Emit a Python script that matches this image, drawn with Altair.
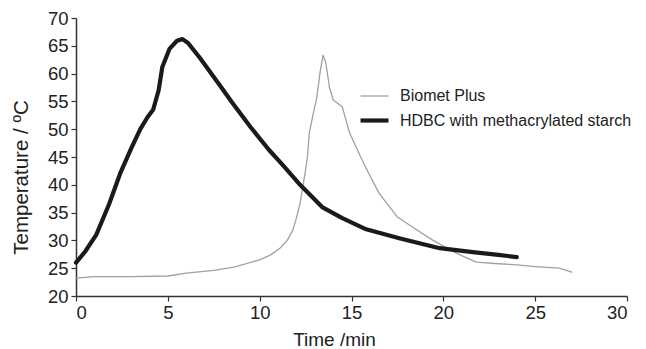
import altair as alt
import pandas as pd

series_names = ["Biomet Plus", "HDBC with methacrylated starch"]

biomet_t = [0, 1, 3, 5, 6, 7.5, 8.6, 10, 10.6, 11.1, 11.5, 11.8, 12.0, 12.2, 12.5, 12.6, 12.7, 12.9, 13.1, 13.3, 13.45, 13.6, 13.8, 14.0, 14.5, 14.9, 15.5, 15.9, 16.5, 17.5, 18.5, 19.4, 20.7, 21.8, 23, 24, 25, 26.3, 27.0]
biomet_v = [23.2, 23.5, 23.5, 23.6, 24.1, 24.6, 25.2, 26.5, 27.4, 28.6, 30.0, 31.8, 34.0, 36.7, 42.7, 45.0, 49.3, 52.5, 55.5, 60.5, 63.3, 62.0, 57.5, 55.3, 54.0, 49.3, 45.0, 42.3, 38.5, 34.2, 32.0, 30.1, 27.7, 26.1, 25.8, 25.6, 25.3, 25.0, 24.3]

hdbc_t = [0, 0.5, 1.1, 1.8, 2.4, 3.0, 3.5, 3.9, 4.2, 4.5, 4.7, 5.1, 5.5, 5.8, 6.1, 6.75, 7.7, 8.5, 9.5, 10.5, 11.3, 12.2, 13.4, 14.5, 15.8, 17.6, 19.8, 21.6, 23.0, 24.0]
hdbc_v = [26.0, 28.0, 31.0, 36.5, 42.0, 46.5, 50.0, 52.2, 53.5, 57.0, 61.2, 64.5, 65.9, 66.2, 65.5, 62.8, 58.5, 54.8, 50.4, 46.3, 43.4, 40.0, 36.0, 34.0, 32.0, 30.4, 28.6, 27.9, 27.4, 27.0]

rows = []
for i, (t, v) in enumerate(zip(biomet_t, biomet_v)):
    rows.append({"series": series_names[0], "t": t, "v": v, "i": i})
for i, (t, v) in enumerate(zip(hdbc_t, hdbc_v)):
    rows.append({"series": series_names[1], "t": t, "v": v, "i": i})
df = pd.DataFrame(rows)

font = "Liberation Sans"

chart = alt.Chart(df).mark_line(strokeJoin="round", strokeCap="round").encode(
    x=alt.X("t:Q", scale=alt.Scale(domain=[0, 30], nice=False),
            axis=alt.Axis(title="Time /min", values=[0, 5, 10, 15, 20, 25, 30],
                          titleX=258, titleY=49, titleBaseline="alphabetic")),
    y=alt.Y("v:Q", scale=alt.Scale(domain=[20, 70], nice=False, zero=False),
            axis=alt.Axis(title="Temperature / ºC", values=list(range(20, 75, 5)),
                          titleX=-45, titleY=159, titleBaseline="bottom")),
    color=alt.Color("series:N", scale=alt.Scale(domain=series_names, range=["#a0a0a0", "#1a1a1a"]),
                    legend=alt.Legend(title=None, orient="none", legendX=282, legendY=63,
                                      symbolType="stroke", symbolSize=784,
                                      labelFontSize=16, labelFont=font, labelColor="#222",
                                      labelLimit=0, labelOffset=9, rowPadding=-3)),
    strokeWidth=alt.StrokeWidth("series:N", scale=alt.Scale(domain=series_names, range=[1.3, 4.2]), legend=None),
    detail="series:N",
    order="i:Q",
).properties(
    width=551, height=278,
    autosize=alt.AutoSizeParams(type="none"),
    padding={"left": 68, "top": 10, "right": 11, "bottom": 53},
).configure_view(stroke=None).configure_axis(
    grid=False, domainColor="#333", domainWidth=1.5, tickColor="#333", tickWidth=1.2, tickSize=5,
    labelFont=font, labelFontSize=18.5, labelColor="#222",
    titleFont=font, titleFontWeight="normal", titleColor="#222",
).configure_axisX(labelPadding=2, titleFontSize=19).configure_axisY(labelPadding=3, titleFontSize=20.5)

chart.save("out.html", embed_options={"renderer": "svg", "actions": False})
